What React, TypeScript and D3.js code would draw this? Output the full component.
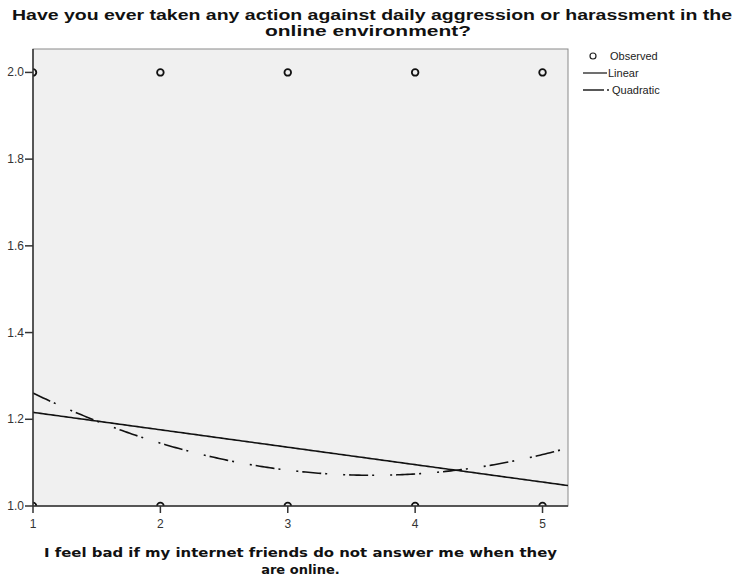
import React from "react";
import * as d3 from "d3";

const titleLines = [
  "Have you ever taken any action against daily aggression or harassment in the",
  "online environment?",
];
const xLabelLines = [
  "I feel bad if my internet friends do not answer me when they",
  "are online.",
];
const observedX = [1, 2, 3, 4, 5, 1, 2, 3, 4, 5];
const observedY = [2, 2, 2, 2, 2, 1, 1, 1, 1, 1];
const xTicks = [1, 2, 3, 4, 5];
const yTicks = [1.0, 1.2, 1.4, 1.6, 1.8, 2.0];
// fitted coefficients: y = c0 + c1*x (+ c2*x^2)
const linearCoef = [1.2562, -0.0402];
const quadCoef = [1.4296, -0.1958, 0.02672];
const legendItems = ["Observed", "Linear", "Quadratic"];

const W = 738;
const H = 580;
const left = 33;
const right = 568;
const top = 49;
const bottom = 506;

export default function App() {
  const x = d3.scaleLinear().domain([1, 5.2]).range([left, right]);
  const y = d3.scaleLinear().domain([1, 2.054]).range([bottom, top]);
  const xs = d3.range(1, 5.2001, 0.02);
  const lin = d3
    .line<number>()
    .x((v) => x(v))
    .y((v) => y(linearCoef[0] + linearCoef[1] * v));
  const quad = d3
    .line<number>()
    .x((v) => x(v))
    .y((v) => y(quadCoef[0] + quadCoef[1] * v + quadCoef[2] * v * v));
  const font = "'Liberation Sans', Arial, sans-serif";
  return (
    <svg
      width={W}
      height={H}
      style={{ position: "absolute", left: 0, top: 0, background: "#fff" }}
    >
      <defs>
        <clipPath id="plotclip">
          <rect x={left} y={top} width={right - left} height={bottom - top} />
        </clipPath>
      </defs>
      <rect x={0} y={0} width={W} height={H} fill="#fff" />
      {/* title */}
      <text
        x={372}
        y={20}
        textAnchor="middle"
        fontFamily={font}
        fontWeight="bold"
        fontSize={15}
        fill="#111"
        textLength={720}
        lengthAdjust="spacingAndGlyphs"
      >
        {titleLines[0]}
      </text>
      <text
        x={368}
        y={36}
        textAnchor="middle"
        fontFamily={font}
        fontWeight="bold"
        fontSize={15}
        fill="#111"
        textLength={206}
        lengthAdjust="spacingAndGlyphs"
      >
        {titleLines[1]}
      </text>
      {/* plot background */}
      <rect
        x={left}
        y={top}
        width={right - left}
        height={bottom - top}
        fill="#f0f0f0"
        stroke="#8a8a8a"
        strokeWidth={1}
      />
      <g clipPath="url(#plotclip)">
        <path d={lin(xs) || ""} fill="none" stroke="#111" strokeWidth={1.6} />
        <path
          d={quad(xs) || ""}
          fill="none"
          stroke="#111"
          strokeWidth={1.6}
          strokeDasharray="19 4 2 16 2 4"
        />
        {observedX.map((v, i) => (
          <circle
            key={i}
            cx={x(v)}
            cy={y(observedY[i])}
            r={3.3}
            fill="none"
            stroke="#111"
            strokeWidth={1.8}
          />
        ))}
      </g>
      {/* axes */}
      <line x1={left} x2={left} y1={top} y2={bottom} stroke="#333" strokeWidth={1.5} />
      <line x1={left} x2={right} y1={bottom} y2={bottom} stroke="#333" strokeWidth={1.5} />
      {yTicks.map((t) => (
        <g key={t}>
          <line x1={left - 8} x2={left} y1={y(t)} y2={y(t)} stroke="#333" strokeWidth={1.5} />
          <text
            x={left - 9}
            y={y(t) + 4}
            textAnchor="end"
            fontFamily={font}
            fontSize={12}
            fill="#333"
          >
            {t.toFixed(1)}
          </text>
        </g>
      ))}
      {xTicks.map((t) => (
        <g key={t}>
          <line x1={x(t)} x2={x(t)} y1={bottom} y2={bottom + 7} stroke="#333" strokeWidth={1.5} />
          <text
            x={x(t)}
            y={528}
            textAnchor="middle"
            fontFamily={font}
            fontSize={12}
            fill="#333"
          >
            {t}
          </text>
        </g>
      ))}
      {/* x label */}
      <text
        x={300.5}
        y={557}
        textAnchor="middle"
        fontFamily="'DejaVu Sans', Verdana, sans-serif"
        fontWeight="bold"
        fontSize={13}
        fill="#111"
        textLength={513}
        lengthAdjust="spacingAndGlyphs"
      >
        {xLabelLines[0]}
      </text>
      <text
        x={300.5}
        y={574}
        textAnchor="middle"
        fontFamily="'DejaVu Sans', Verdana, sans-serif"
        fontWeight="bold"
        fontSize={13}
        fill="#111"
      >
        {xLabelLines[1]}
      </text>
      {/* legend */}
      <circle cx={593} cy={56} r={3} fill="none" stroke="#222" strokeWidth={1.2} />
      <text x={610} y={60} fontFamily={font} fontSize={11} fill="#222">
        {legendItems[0]}
      </text>
      <line x1={583} x2={607} y1={73} y2={73} stroke="#222" strokeWidth={1.3} />
      <text x={608} y={77} fontFamily={font} fontSize={11} fill="#222">
        {legendItems[1]}
      </text>
      <line
        x1={583}
        x2={610}
        y1={90}
        y2={90}
        stroke="#222"
        strokeWidth={1.3}
        strokeDasharray="21 3 2 30"
      />
      <text x={612} y={94} fontFamily={font} fontSize={11} fill="#222">
        {legendItems[2]}
      </text>
    </svg>
  );
}
